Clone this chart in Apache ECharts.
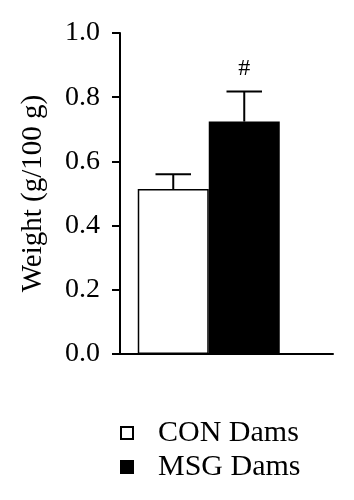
<!DOCTYPE html>
<html>
<head>
<meta charset="utf-8">
<script src="https://cdn.jsdelivr.net/npm/echarts@6/dist/echarts.min.js"></script>
<style>
  html, body { margin: 0; padding: 0; background: #fff; }
  #chart { width: 354px; height: 500px; }
</style>
</head>
<body>
<div id="chart"></div>
<script>
  // data
  var groups = ['CON Dams', 'MSG Dams'];
  var means = [0.514, 0.724];
  var errors = [0.046, 0.094];
  var marks = ['', '#'];

  var fontFamily = '"Liberation Serif", "DejaVu Serif", serif';
  var barColors = ['#ffffff', '#000000'];
  var barStart = 0.75; // x position of first bar on the hidden value axis
  var capHalf = 0.25;

  var chart = echarts.init(document.getElementById('chart'));

  var barSeries = groups.map(function (name, i) {
    return {
      name: name,
      type: 'bar',
      barWidth: 71,
      barGap: '-100%',
      data: [[barStart + i, means[i]]],
      itemStyle: {
        color: barColors[i],
        borderColor: '#000',
        borderWidth: 1.5
      },
      z: 2
    };
  });

  var errData = means.map(function (m, i) {
    return [barStart + i, m, errors[i], marks[i]];
  });

  // error bars (upper only) + significance mark
  var errSeries = {
    type: 'custom',
    silent: true,
    z: 3,
    data: errData,
    renderItem: function (params, api) {
      var x = api.value(0);
      var m = api.value(1);
      var top = m + api.value(2);
      var mark = errData[params.dataIndex][3];
      var p0 = api.coord([x, m]);
      var p1 = api.coord([x, top]);
      var cl = api.coord([x - capHalf, top]);
      var cr = api.coord([x + capHalf, top]);
      var style = { stroke: '#000', lineWidth: 2 };
      var children = [
        { type: 'line', shape: { x1: p0[0], y1: p0[1], x2: p1[0], y2: p1[1] }, style: style },
        { type: 'line', shape: { x1: cl[0], y1: cl[1], x2: cr[0], y2: cr[1] }, style: style }
      ];
      if (mark) {
        children.push({
          type: 'text',
          style: {
            x: p1[0], y: p1[1] - 23,
            text: mark,
            align: 'center', verticalAlign: 'middle',
            fontSize: 24, fontFamily: fontFamily, fill: '#000'
          }
        });
      }
      return { type: 'group', children: children };
    }
  };

  chart.setOption({
    animation: false,
    grid: { left: 120, right: 21, top: 33, bottom: 146 },
    legend: {
      orient: 'vertical',
      left: 120,
      top: 418,
      padding: 0,
      itemWidth: 12,
      itemHeight: 12,
      itemGap: 4,
      icon: 'rect',
      data: groups,
      textStyle: { fontSize: 30, fontFamily: fontFamily, color: '#000', padding: [0, 0, 0, 20], lineHeight: 30 }
    },
    xAxis: {
      type: 'value',
      min: 0,
      max: 3,
      axisLine: { show: true, lineStyle: { color: '#000', width: 2 } },
      axisTick: { show: false },
      axisLabel: { show: false },
      splitLine: { show: false }
    },
    yAxis: {
      type: 'value',
      min: 0,
      max: 1,
      interval: 0.2,
      name: 'Weight (g/100 g)',
      nameLocation: 'middle',
      nameGap: 72,
      nameTextStyle: { fontSize: 29, fontFamily: fontFamily, color: '#000' },
      axisLine: { show: true, lineStyle: { color: '#000', width: 2 } },
      axisTick: { show: true, length: 8, lineStyle: { color: '#000', width: 2 } },
      axisLabel: {
        margin: 20,
        fontSize: 28,
        fontFamily: fontFamily,
        color: '#000',
        formatter: function (v) { return v.toFixed(1); }
      },
      splitLine: { show: false }
    },
    series: barSeries.concat([errSeries])
  });
</script>
</body>
</html>
